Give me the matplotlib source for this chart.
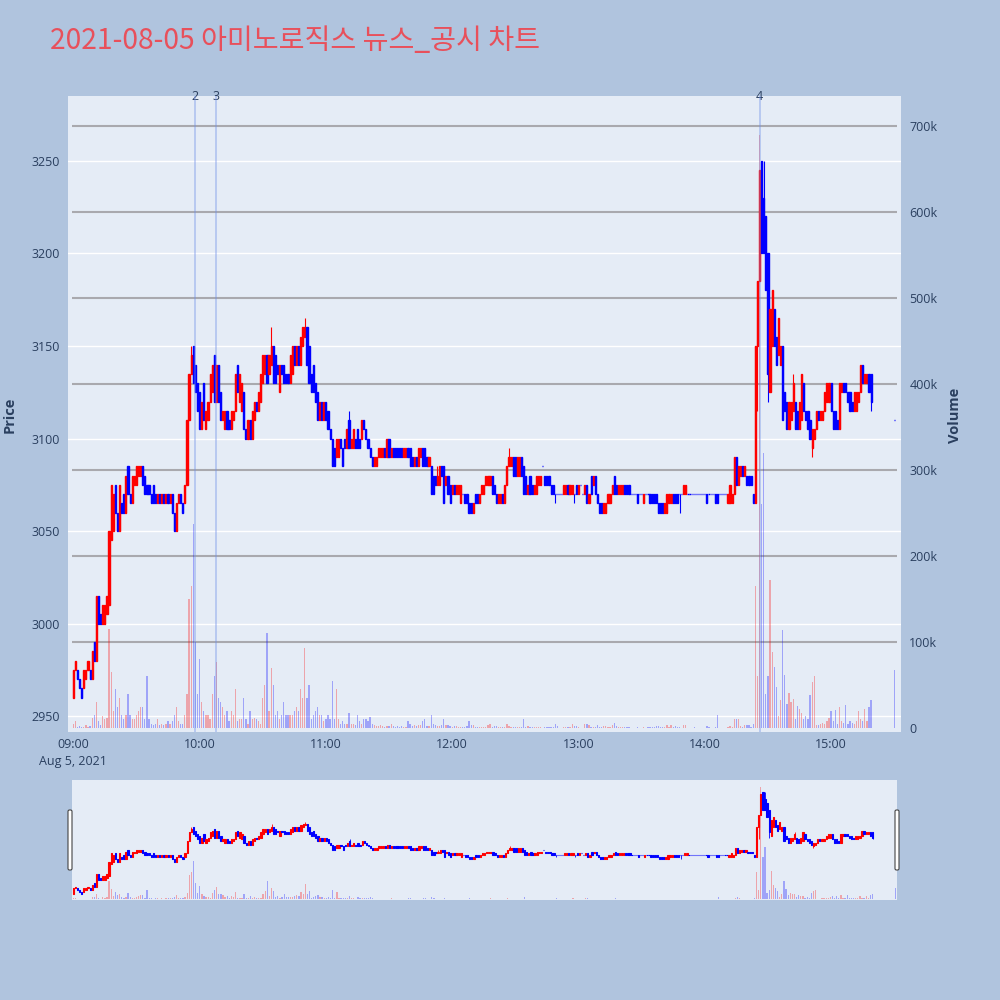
import matplotlib
matplotlib.use('Agg')
import matplotlib.pyplot as plt
import matplotlib.transforms as mtransforms
from matplotlib.patches import FancyBboxPatch
import numpy as np
import pandas as pd

plt.rcParams['font.family'] = ['Open Sans', 'Noto Sans CJK KR', 'DejaVu Sans']

title = '2021-08-05 아미노로직스 뉴스_공시 차트'

# 1분봉 09:00 ~ 15:19, 마지막은 15:30 종가 단일가
opens = [
    2960, 2975, 2975, 2970, 2965, 2965, 2970, 2975, 2975, 2970,
    2990, 2980, 3015, 3005, 3000, 3000, 3005, 3010, 3045, 3050,
    3075, 3060, 3050, 3065, 3070, 3060, 3085, 3070, 3065, 3075,
    3075, 3080, 3080, 3085, 3080, 3075, 3075, 3070, 3075, 3070,
    3065, 3070, 3065, 3070, 3065, 3070, 3065, 3070, 3060, 3050,
    3065, 3070, 3065, 3065, 3075, 3110, 3135, 3150, 3140, 3130,
    3125, 3105, 3130, 3105, 3110, 3120, 3125, 3145, 3120, 3140,
    3125, 3110, 3105, 3115, 3110, 3105, 3110, 3115, 3140, 3120,
    3115, 3125, 3105, 3100, 3110, 3100, 3110, 3120, 3115, 3120,
    3130, 3135, 3145, 3135, 3140, 3150, 3145, 3140, 3125, 3140,
    3140, 3135, 3135, 3130, 3135, 3150, 3140, 3150, 3140, 3150,
    3155, 3160, 3150, 3135, 3140, 3130, 3125, 3110, 3120, 3110,
    3120, 3115, 3105, 3100, 3095, 3090, 3090, 3100, 3095, 3100,
    3095, 3110, 3095, 3095, 3100, 3105, 3100, 3100, 3110, 3105,
    3100, 3095, 3090, 3085, 3085, 3090, 3090, 3090, 3095, 3090,
    3100, 3090, 3095, 3095, 3095, 3095, 3095, 3090, 3090, 3095,
    3095, 3090, 3085, 3090, 3085, 3090, 3095, 3095, 3090, 3085,
    3085, 3080, 3080, 3075, 3075, 3085, 3085, 3075, 3080, 3075,
    3070, 3075, 3070, 3070, 3065, 3070, 3070, 3070, 3065, 3065,
    3060, 3070, 3070, 3065, 3070, 3070, 3075, 3075, 3075, 3080,
    3075, 3070, 3065, 3065, 3070, 3065, 3075, 3085, 3085, 3090,
    3090, 3080, 3080, 3090, 3085, 3080, 3070, 3080, 3075, 3070,
    3070, 3075, 3075, 3085, 3080, 3080, 3080, 3075, 3075, 3070,
    3070, 3070, 3070, 3070, 3070, 3075, 3070, 3070, 3070, 3075,
    3070, 3075, 3070, 3070, 3075, 3065, 3080, 3075, 3080, 3070,
    3065, 3065, 3060, 3060, 3065, 3065, 3070, 3080, 3075, 3070,
    3070, 3070, 3075, 3075, 3075, 3070, 3070, 3070, 3070, 3070,
    3070, 3065, 3070, 3070, 3070, 3070, 3070, 3070, 3065, 3065,
    3065, 3060, 3060, 3065, 3065, 3070, 3070, 3070, 3070, 3070,
    3070, 3070, 3070, 3070, 3070, 3070, 3070, 3070, 3070, 3070,
    3070, 3070, 3070, 3070, 3070, 3070, 3070, 3070, 3070, 3070,
    3070, 3065, 3065, 3065, 3070, 3090, 3075, 3080, 3085, 3080,
    3080, 3080, 3080, 3070, 3065, 3150, 3185, 3250, 3230, 3220,
    3200, 3125, 3150, 3170, 3155, 3145, 3140, 3150, 3125, 3120,
    3105, 3110, 3115, 3120, 3115, 3105, 3110, 3130, 3115, 3115,
    3110, 3095, 3100, 3105, 3115, 3110, 3110, 3115, 3120, 3120,
    3130, 3115, 3115, 3110, 3105, 3125, 3130, 3130, 3125, 3125,
    3120, 3115, 3115, 3120, 3125, 3140, 3130, 3130, 3135, 3135,
    3110,
]
closes = [
    2975, 2980, 2970, 2965, 2960, 2975, 2975, 2980, 2970, 2985,
    2980, 3015, 3000, 3000, 3010, 3010, 3015, 3050, 3075, 3070,
    3060, 3050, 3075, 3060, 3060, 3080, 3070, 3065, 3080, 3080,
    3085, 3085, 3085, 3075, 3070, 3070, 3070, 3065, 3065, 3065,
    3070, 3065, 3070, 3065, 3070, 3065, 3070, 3060, 3050, 3065,
    3070, 3065, 3060, 3075, 3110, 3135, 3145, 3130, 3125, 3115,
    3105, 3120, 3110, 3115, 3120, 3135, 3140, 3120, 3140, 3120,
    3110, 3115, 3115, 3105, 3105, 3115, 3115, 3135, 3125, 3135,
    3130, 3105, 3100, 3110, 3100, 3115, 3120, 3115, 3125, 3135,
    3145, 3145, 3130, 3145, 3150, 3130, 3130, 3135, 3140, 3135,
    3130, 3130, 3130, 3145, 3150, 3140, 3150, 3140, 3155, 3160,
    3160, 3140, 3130, 3125, 3125, 3120, 3110, 3120, 3110, 3120,
    3110, 3105, 3100, 3085, 3085, 3100, 3100, 3095, 3085, 3095,
    3105, 3095, 3100, 3105, 3095, 3095, 3095, 3110, 3105, 3100,
    3095, 3090, 3085, 3090, 3090, 3095, 3095, 3095, 3090, 3100,
    3090, 3095, 3090, 3090, 3090, 3090, 3090, 3095, 3095, 3090,
    3085, 3085, 3090, 3085, 3095, 3095, 3085, 3085, 3085, 3090,
    3070, 3070, 3075, 3080, 3085, 3080, 3065, 3080, 3070, 3065,
    3075, 3070, 3075, 3075, 3075, 3070, 3065, 3065, 3060, 3060,
    3065, 3065, 3065, 3070, 3075, 3075, 3080, 3080, 3080, 3070,
    3070, 3065, 3070, 3070, 3065, 3075, 3085, 3090, 3090, 3080,
    3080, 3090, 3090, 3080, 3070, 3070, 3075, 3070, 3070, 3075,
    3080, 3080, 3080, 3085, 3075, 3075, 3075, 3070, 3070, 3070,
    3070, 3070, 3070, 3075, 3075, 3070, 3075, 3075, 3070, 3070,
    3075, 3075, 3070, 3075, 3065, 3070, 3070, 3080, 3070, 3065,
    3060, 3060, 3065, 3065, 3070, 3070, 3075, 3070, 3070, 3075,
    3075, 3075, 3070, 3070, 3070, 3070, 3070, 3070, 3065, 3070,
    3070, 3070, 3070, 3070, 3065, 3065, 3065, 3065, 3060, 3060,
    3060, 3065, 3070, 3070, 3070, 3065, 3065, 3065, 3070, 3070,
    3075, 3075, 3070, 3070, 3070, 3070, 3070, 3070, 3070, 3070,
    3070, 3065, 3070, 3070, 3070, 3065, 3065, 3070, 3070, 3070,
    3070, 3070, 3075, 3070, 3090, 3075, 3085, 3085, 3080, 3085,
    3075, 3075, 3075, 3065, 3150, 3185, 3245, 3200, 3200, 3180,
    3135, 3170, 3180, 3150, 3140, 3165, 3150, 3110, 3115, 3105,
    3120, 3120, 3130, 3105, 3105, 3120, 3135, 3115, 3110, 3105,
    3100, 3105, 3105, 3115, 3110, 3115, 3115, 3125, 3130, 3130,
    3115, 3105, 3105, 3105, 3130, 3130, 3125, 3125, 3120, 3115,
    3115, 3125, 3125, 3125, 3140, 3130, 3135, 3135, 3125, 3120,
    3110,
]
# 거래량 (천주)
volumes_k = [
    5, 8, 1, 2, 1, 1, 3, 1, 2, 12,
    15, 30, 8, 3, 14, 10, 12, 115, 65, 20,
    45, 25, 35, 15, 10, 15, 40, 15, 10, 10,
    15, 20, 25, 25, 10, 60, 10, 5, 3, 5,
    10, 3, 5, 3, 5, 8, 5, 8, 15, 25,
    8, 5, 5, 15, 40, 150, 165, 237, 100, 40,
    80, 30, 20, 15, 15, 10, 40, 60, 77, 35,
    30, 25, 15, 20, 8, 20, 15, 45, 8, 10,
    10, 35, 10, 5, 20, 10, 12, 10, 8, 5,
    35, 50, 110, 20, 70, 50, 15, 20, 10, 15,
    30, 15, 15, 15, 15, 20, 25, 20, 45, 35,
    93, 35, 50, 10, 15, 20, 25, 15, 15, 8,
    10, 15, 10, 55, 10, 45, 10, 5, 8, 5,
    5, 18, 5, 5, 3, 15, 8, 5, 10, 10,
    8, 13, 5, 3, 2, 2, 3, 2, 1, 2,
    2, 5, 2, 1, 2, 1, 2, 1, 1, 8,
    5, 2, 3, 2, 3, 3, 8, 10, 2, 2,
    15, 5, 3, 2, 2, 3, 10, 3, 3, 2,
    1, 2, 2, 1, 1, 1, 1, 2, 8, 3,
    3, 1, 1, 1, 1, 1, 1, 4, 5, 1,
    2, 2, 1, 1, 1, 1, 5, 2, 1, 1,
    1, 1, 1, 1, 11, 1, 2, 1, 1, 1,
    1, 1, 1, 0.5, 1, 1, 1, 1, 1, 5,
    2, 0.5, 0.5, 1, 1, 1, 1, 5, 2, 2,
    1, 0.5, 0.5, 5, 5, 3, 1, 1, 1, 3,
    1, 1, 2, 2, 1, 1, 4, 6, 2, 1,
    1, 1, 1, 1, 1, 0.5, 0.5, 0.5, 1, 0.5,
    0.5, 1, 0.5, 1, 1, 1, 1, 2, 2, 1,
    1, 1, 3, 1, 4, 1, 2, 1, 1, 0.5,
    4, 4, 0.5, 0.5, 0.5, 1, 0.5, 0.5, 0.5, 0.5,
    0.5, 2, 1, 0.5, 0.5, 1, 15, 0.5, 0.5, 0.5,
    0.5, 1, 2, 1, 10, 11, 10, 2, 1, 4,
    3, 3, 1, 5, 165, 60, 690, 260, 320, 40,
    60, 172, 88, 71, 48, 14, 33, 114, 62, 28,
    41, 30, 34, 11, 26, 22, 18, 10, 14, 10,
    38, 53, 60, 4, 3, 5, 6, 5, 8, 12,
    20, 8, 21, 5, 25, 8, 6, 27, 5, 8,
    6, 5, 8, 20, 10, 8, 22, 8, 25, 32,
    68,
]
# 몸통 밖으로 나간 꼬리
wick_high = {'09:56': 3150, '10:34': 3160, '10:50': 3165, '11:11': 3115,
             '11:53': 3085, '12:27': 3095, '14:27': 3250, '14:28': 3250,
             '14:42': 3135}
wick_low = {'12:49': 3065, '12:58': 3065, '13:48': 3060, '14:25': 3115,
            '14:30': 3120, '14:51': 3090, '15:19': 3115}

news_times = ['09:58', '10:08', '14:26']
news_labels = ['2', '3', '4']

price_ticks = [2950, 3000, 3050, 3100, 3150, 3200, 3250]
volume_ticks_k = [0, 100, 200, 300, 400, 500, 600, 700]
hour_ticks = ['09:00', '10:00', '11:00', '12:00', '13:00', '14:00', '15:00']

PAPER = '#B0C4DE'
PLOT_BG = '#E5ECF6'
UP = '#FF0000'
DOWN = '#0000FF'
FONT_C = '#2a3f5f'

# 시간 -> 09:00 기준 분
times = list(pd.date_range('2021-08-05 09:00', '2021-08-05 15:19', freq='min').strftime('%H:%M')) + ['15:30']


def to_min(t):
    h, m = t.split(':')
    return (int(h) - 9) * 60 + int(m)


x = np.array([to_min(t) for t in times], dtype=float)
o = np.array(opens, dtype=float)
c = np.array(closes, dtype=float)
v = np.array(volumes_k, dtype=float) * 1000
hi = np.maximum(o, c)
lo = np.minimum(o, c)
for t, val in wick_high.items():
    hi[times.index(t)] = val
for t, val in wick_low.items():
    lo[times.index(t)] = val
cols = [UP if cc > oo else DOWN for oo, cc in zip(o, c)]

P_LIM = (2941.4, 3285.1)
V_LIM = (-4650, 735000)


def px_axes(x0, y0, x1, y1):
    return [x0 / 1000, 1 - y1 / 1000, (x1 - x0) / 1000, (y1 - y0) / 1000]


def draw_candles(ax, body_w, edge_w, wick_w):
    ax.vlines(x, lo, hi, colors=cols, lw=wick_w, zorder=3)
    ax.bar(x, np.abs(c - o), bottom=np.minimum(o, c), width=body_w,
           color=cols, edgecolor=cols, linewidth=edge_w, zorder=4)


fig = plt.figure(figsize=(10, 10), dpi=100, facecolor=PAPER)

# ---- 메인 차트 ----
ax_v = fig.add_axes(px_axes(68, 96, 901, 732))
ax_v.set_facecolor(PLOT_BG)
ax = fig.add_axes(px_axes(68, 96, 901, 732), sharex=ax_v)
ax.patch.set_visible(False)
ax.set_zorder(ax_v.get_zorder() + 1)

ax.set_xlim(-2.5, 393.2)
ax.set_ylim(*P_LIM)
ax_v.set_ylim(*V_LIM)

# 격자: 가격(흰색), 거래량(회색)
blend = mtransforms.blended_transform_factory(ax_v.transAxes, ax.transData)
for p in price_ticks:
    ax_v.plot([0, 1], [p, p], transform=blend, color='white', lw=1.0, zorder=0.5)
ax_v.hlines(np.array(volume_ticks_k[1:]) * 1000, 0.005, 0.995,
            transform=ax_v.get_yaxis_transform(), colors='#A9A9AE', lw=1.5, zorder=0.6)
ax_v.set_ylim(*V_LIM)

ax_v.bar(x, v, width=0.6, color=cols, alpha=0.3, linewidth=0, zorder=2)
draw_candles(ax, 0.55, 1.0, 0.8)

for t, lab in zip(news_times, news_labels):
    xm = to_min(t)
    ax.axvline(xm, color='#6f8fe8', alpha=0.45, lw=1.2, zorder=5)
    ax.text(xm, 1.0, lab, transform=ax.get_xaxis_transform(), ha='center', va='center',
            fontsize=9, color=FONT_C)

for a in (ax, ax_v):
    for s in a.spines.values():
        s.set_visible(False)

ax.set_yticks(price_ticks)
ax.set_yticklabels([str(p) for p in price_ticks])
ax.tick_params(axis='y', length=0, pad=6, labelsize=9, labelcolor=FONT_C)
ax.set_xticks([to_min(t) for t in hour_ticks])
xlabels = list(hour_ticks)
xlabels[0] = hour_ticks[0] + '\nAug 5, 2021'
ax.set_xticklabels(xlabels)
ax.tick_params(axis='x', length=0, pad=4, labelsize=9, labelcolor=FONT_C)
for tl in ax.get_xticklabels():
    tl.set_linespacing(1.45)

ax_v.yaxis.tick_right()
ax_v.set_yticks(np.array(volume_ticks_k) * 1000)
ax_v.set_yticklabels(['0' if k == 0 else f'{k}k' for k in volume_ticks_k])
ax_v.tick_params(axis='y', length=0, pad=6, labelsize=9, labelcolor=FONT_C)
ax_v.tick_params(axis='x', bottom=False, labelbottom=False)

fig.text(0.010, 0.585, 'Price', rotation=90, ha='center', va='center',
         fontsize=10.5, fontweight='bold', color=FONT_C)
fig.text(0.955, 0.585, 'Volume', rotation=90, ha='center', va='center',
         fontsize=10.5, fontweight='bold', color=FONT_C)

fig.text(0.05, 0.959, title, ha='left', va='center', fontsize=20.3,
         color='#E8505B', family=['Noto Sans CJK KR', 'DejaVu Sans'])

# ---- 레인지 슬라이더 ----
sv = fig.add_axes(px_axes(72, 780, 897, 900))
sv.set_facecolor(PLOT_BG)
sp = fig.add_axes(px_axes(72, 780, 897, 900), sharex=sv)
sp.patch.set_visible(False)
sp.set_zorder(sv.get_zorder() + 1)
sv.bar(x, v, width=0.6, color=cols, alpha=0.3, linewidth=0)
draw_candles(sp, 0.6, 0.8, 0.6)
sp.set_xlim(-0.6, 390.6)
sp.set_ylim(*P_LIM)
sv.set_ylim(*V_LIM)
for a in (sp, sv):
    a.set_xticks([])
    a.set_yticks([])
    for s in a.spines.values():
        s.set_visible(False)

for hx in (0.068, 0.895):
    fig.add_artist(FancyBboxPatch((hx, 0.130), 0.004, 0.060,
                                  boxstyle='round,pad=0,rounding_size=0.0015',
                                  transform=fig.transFigure, fc='white', ec='#444444',
                                  lw=0.8, zorder=10))

fig.savefig('out.png', dpi=100, facecolor=PAPER)
